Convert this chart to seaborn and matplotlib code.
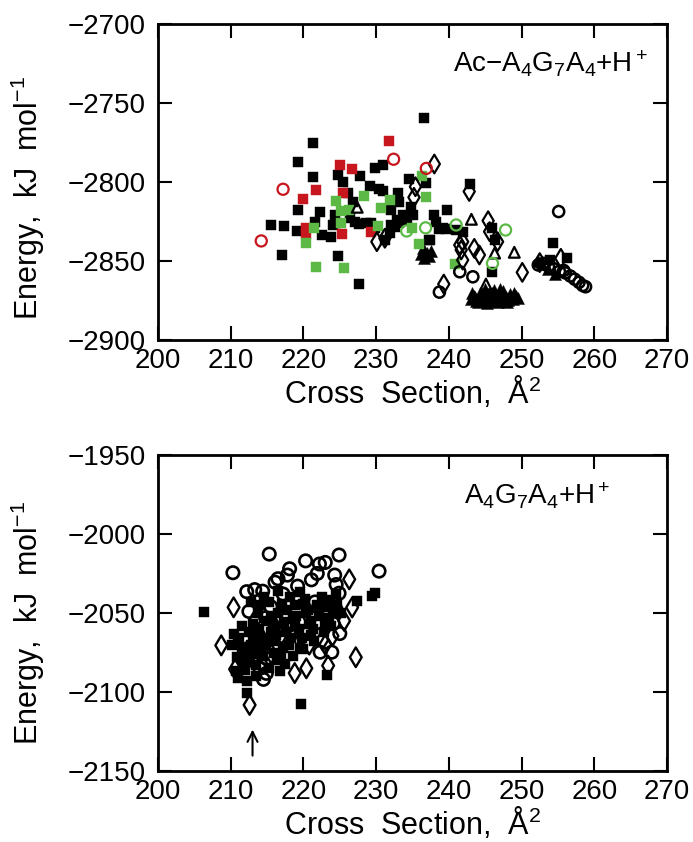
import numpy as np
import pandas as pd
import matplotlib
matplotlib.use("Agg")
import matplotlib.pyplot as plt
import seaborn as sns

# ---------------- data: top panel (Ac-A4G7A4+H+) ----------------
top_black_sq_x = [221.3, 219.2, 221.3, 219.2, 215.5, 217.3, 219.1, 221.6, 217.1, 236.6, 227.8, 229.9, 230.9,
                  224.7, 225.4, 234.5, 236.8, 229.1, 230.4, 230.9, 233.0, 226.1, 226.8, 233.1, 232.1, 234.8,
                  233.7, 232.8, 232.1, 222.3, 224.3, 224.5, 226.4, 227.1, 227.7, 228.6, 229.3, 229.9, 224.1,
                  222.6, 223.8, 231.2, 231.9, 232.6, 233.2, 234.2, 235.1, 237.3, 238.0, 238.3, 239.2, 239.7,
                  224.8, 227.7, 242.9, 238.7, 239.6, 241.0, 241.9, 246.0, 246.3, 237.4, 246.0, 254.3, 256.2,
                  253.9]
top_black_sq_y = [-2775.5, -2787.5, -2796.6, -2817.7, -2827.0, -2827.6, -2830.8, -2825.0, -2846.2, -2759.7,
                  -2796.0, -2791.0, -2789.0, -2795.6, -2800.0, -2798.0, -2800.8, -2802.5, -2804.6, -2805.5,
                  -2806.7, -2806.7, -2812.5, -2812.5, -2817.7, -2816.0, -2820.9, -2824.0, -2827.2, -2818.8,
                  -2820.9, -2826.0, -2823.0, -2825.2, -2826.6, -2826.1, -2825.8, -2829.3, -2827.2, -2833.5,
                  -2835.0, -2836.7, -2832.5, -2828.3, -2826.0, -2824.0, -2820.9, -2836.7, -2821.0, -2825.0,
                  -2829.3, -2817.7, -2846.8, -2864.7, -2801.5, -2830.0, -2830.0, -2830.4, -2831.4, -2829.3,
                  -2836.7, -2836.7, -2856.8, -2838.8, -2847.9, -2849.4]

top_red_sq_x = [221.7, 219.9, 220.4, 220.4, 231.7, 225.0, 226.7, 225.4, 225.3, 229.3]
top_red_sq_y = [-2805.0, -2810.8, -2829.0, -2833.0, -2773.8, -2789.0, -2792.0, -2807.0, -2833.0, -2831.4]

top_red_circ_x = [217.2, 214.2, 232.4, 236.9]
top_red_circ_y = [-2804.6, -2837.3, -2785.6, -2791.4]

top_green_sq_x = [220.4, 221.7, 221.4, 236.3, 236.9, 228.3, 224.5, 231.9, 225.1, 226.2, 230.7, 225.2, 230.2,
                  234.9, 235.9, 225.6, 240.8]
top_green_sq_y = [-2838.4, -2854.0, -2829.0, -2796.0, -2809.3, -2808.6, -2812.0, -2811.4, -2818.4, -2817.7,
                  -2816.2, -2826.0, -2827.8, -2829.3, -2839.2, -2854.6, -2851.9]

top_green_circ_x = [234.2, 236.8, 241.0, 247.8, 246.0]
top_green_circ_y = [-2831.0, -2829.0, -2827.2, -2830.4, -2851.5]

top_diam_x = [238.0, 235.4, 235.2, 230.1, 231.2, 242.8, 245.4, 245.6, 246.7, 241.5, 241.9, 241.7, 243.5, 244.2,
              241.9, 250.1, 239.3, 255.4, 252.5]
top_diam_y = [-2788.6, -2803.0, -2809.7, -2837.8, -2835.6, -2806.0, -2824.5, -2831.4, -2837.8, -2839.9, -2837.8,
              -2843.0, -2842.0, -2846.2, -2849.4, -2857.2, -2864.6, -2848.3, -2851.0]

top_tri_x = [227.4, 243.1, 246.3, 249.0, 245.1]
top_tri_y = [-2816.0, -2823.6, -2845.0, -2844.5, -2864.6]

top_circ_x = [255.1, 241.5, 243.3, 238.7, 252.3, 253.0, 253.7, 254.5, 255.2, 256.0, 256.7, 257.3, 257.9, 258.4,
              258.8, 255.8]
top_circ_y = [-2818.7, -2856.8, -2860.0, -2869.7, -2852.5, -2851.5, -2853.5, -2855.0, -2856.5, -2857.5, -2859.5,
              -2861.5, -2863.5, -2865.5, -2866.3, -2856.0]

top_filltri_x = [236.5, 237.0, 236.6, 237.3, 236.2, 237.5,
                 243.2, 243.6, 244.0, 244.3, 244.8, 245.2, 245.5, 246.0, 246.4, 246.8, 247.2, 247.6, 248.0,
                 248.4, 248.8, 249.2, 245.0, 246.2, 243.8, 247.0,
                 243.4, 244.1, 244.6, 245.3, 245.8, 246.5, 247.1, 247.8, 248.5, 249.0, 244.5, 245.9, 247.4,
                 248.2, 249.5, 243.0, 246.0, 247.5,
                 252.8, 253.6, 254.6, 252.3]
top_filltri_y = [-2842.0, -2845.0, -2848.0, -2847.0, -2845.5, -2843.5,
                 -2870.0, -2873.0, -2876.0, -2870.5, -2874.0, -2876.5, -2871.0, -2874.5, -2872.0, -2876.0,
                 -2870.0, -2873.5, -2876.0, -2871.0, -2874.0, -2872.0, -2868.0, -2868.5, -2875.5, -2867.5,
                 -2872.0, -2872.5, -2871.5, -2873.0, -2872.5, -2873.5, -2872.0, -2872.5, -2873.5, -2870.5,
                 -2875.0, -2875.5, -2875.0, -2874.5, -2873.5, -2874.0, -2870.0, -2869.0,
                 -2852.0, -2855.0, -2858.0, -2850.0]

# ---------------- data: bottom panel (A4G7A4+H+) ----------------
bot_sq_x = [210.5, 211.0, 211.5, 210.8, 211.8, 212.5, 212.8, 213.2, 213.5, 212.0, 213.0, 213.8, 214.0, 214.6,
            215.2, 215.0, 215.5, 215.8, 216.0, 216.4, 214.5, 214.2, 216.5, 217.0, 217.3, 217.6, 218.0, 218.2,
            218.8, 219.0, 219.4, 219.8, 220.2, 220.6, 221.0, 221.3, 221.8, 222.2, 222.5, 223.0, 223.5, 224.0,
            224.6, 225.2, 220.0, 221.5, 218.5, 217.5, 215.3, 212.2, 211.0, 213.5, 216.8, 219.5, 212.8, 211.5,
            210.2, 222.8, 223.8, 224.5, 216.5, 219.5,
            211.2, 212.3, 213.9, 214.8, 216.2, 217.8, 218.9, 220.4, 221.9, 222.9, 212.6, 213.7, 215.6, 216.9,
            218.3, 219.9, 221.1, 222.4, 211.7, 213.1, 214.4, 215.9, 217.2, 218.6, 220.8, 223.7,
            206.3, 212.3, 219.7, 223.2, 227.3, 229.4, 229.9, 210.7]
bot_sq_y = [-2063, -2068, -2072, -2078, -2080, -2062, -2070, -2076, -2083, -2086, -2057, -2050, -2045, -2040,
            -2043, -2055, -2062, -2068, -2075, -2080, -2066, -2072, -2050, -2044, -2056, -2062, -2070, -2040,
            -2045, -2052, -2060, -2066, -2041, -2048, -2055, -2060, -2045, -2052, -2040, -2046, -2053, -2049,
            -2045, -2050, -2073, -2068, -2077, -2082, -2085, -2093, -2091, -2090, -2087, -2072, -2043, -2058,
            -2070, -2062, -2058, -2038, -2036, -2037,
            -2066, -2074, -2060, -2070, -2064, -2048, -2058, -2050, -2047, -2056, -2081, -2068, -2052, -2078,
            -2066, -2044, -2064, -2046, -2084, -2064, -2077, -2058, -2072, -2054, -2057, -2042,
            -2049.2, -2100.8, -2107.6, -2089.5, -2042.2, -2039.0, -2037.5, -2086.5]

bot_circ_x = [215.3, 210.3, 218.1, 220.3, 222.2, 223.0, 224.9, 221.9, 221.1, 230.4, 224.3, 224.5, 224.9, 216.1,
              216.5, 212.2, 213.3, 214.4, 222.3, 223.9, 214.5, 214.9, 224.5, 224.1, 225.0, 217.2, 219.2, 215.5,
              218.0, 220.5, 222.0, 213.8, 216.2, 215.0, 214.0, 219.0, 221.6, 212.5, 217.8, 214.8]
bot_circ_y = [-2012.7, -2024.5, -2022.0, -2017.0, -2019.0, -2018.0, -2013.3, -2025.0, -2029.0, -2023.5, -2026.0,
              -2032.0, -2037.5, -2030.5, -2028.3, -2036.5, -2035.2, -2036.2, -2074.8, -2074.8, -2092.0, -2088.2,
              -2048.0, -2056.6, -2063.0, -2038.0, -2033.0, -2046.0, -2058.0, -2063.0, -2056.0, -2064.0, -2071.0,
              -2079.0, -2085.0, -2049.0, -2043.0, -2049.0, -2026.0, -2053.0]

bot_diam_x = [210.4, 208.7, 210.6, 212.6, 218.8, 220.4, 223.4, 227.2, 226.3, 226.7, 213.0, 214.2, 215.6, 216.8,
              218.4, 220.8, 222.6, 224.0, 225.6, 213.4, 216.0, 219.6, 221.2, 212.0, 223.0]
bot_diam_y = [-2046.4, -2070.5, -2085.6, -2108.2, -2088.0, -2085.0, -2083.3, -2078.0, -2028.7, -2046.5, -2079.0,
              -2082.0, -2076.0, -2065.0, -2064.0, -2070.0, -2067.0, -2064.5, -2055.0, -2054.0, -2058.0, -2056.0,
              -2052.0, -2075.0, -2070.0]

x_ticks = [200, 210, 220, 230, 240, 250, 260, 270]
top_y_ticks = [-2900, -2850, -2800, -2750, -2700]
bot_y_ticks = [-2150, -2100, -2050, -2000, -1950]

# ---------------- style ----------------
sns.set_style("ticks")
plt.rcParams["font.family"] = ["Liberation Sans", "DejaVu Sans"]
plt.rcParams["mathtext.fontset"] = "custom"
plt.rcParams["mathtext.rm"] = "Liberation Sans"
plt.rcParams["mathtext.it"] = "Liberation Sans:italic"
plt.rcParams["mathtext.bf"] = "Liberation Sans:bold"
plt.rcParams["text.color"] = "black"
plt.rcParams["axes.labelcolor"] = "black"
plt.rcParams["xtick.color"] = "black"
plt.rcParams["ytick.color"] = "black"

RED = "#c8161e"
GREEN = "#5cb946"

fig = plt.figure(figsize=(6.93, 8.42), dpi=100)
W, H = 693, 842
ax1 = fig.add_axes([158 / W, 1 - 340 / H, 509 / W, 316 / H])
ax2 = fig.add_axes([158 / W, 1 - 771 / H, 509 / W, 316 / H])


def filled(ax, xs, ys, marker, color, s):
    sns.scatterplot(x=xs, y=ys, marker=marker, s=s, color=color, edgecolor=color,
                    linewidth=0.3, ax=ax, zorder=3)


def hollow(ax, xs, ys, marker, color, s, lw=1.5):
    sns.scatterplot(x=xs, y=ys, marker=marker, s=s, facecolor="none", edgecolor=color,
                    linewidth=lw, ax=ax, zorder=4)


# top panel
filled(ax1, top_black_sq_x, top_black_sq_y, "s", "k", 44)
filled(ax1, top_filltri_x, top_filltri_y, "^", "k", 75)
hollow(ax1, top_diam_x, top_diam_y, "d", "k", 90, 1.6)
hollow(ax1, top_tri_x, top_tri_y, "^", "k", 60, 1.6)
hollow(ax1, top_circ_x, top_circ_y, "o", "k", 64, 1.8)
filled(ax1, top_red_sq_x, top_red_sq_y, "s", RED, 44)
filled(ax1, top_green_sq_x, top_green_sq_y, "s", GREEN, 44)
hollow(ax1, top_red_circ_x, top_red_circ_y, "o", RED, 64, 1.6)
hollow(ax1, top_green_circ_x, top_green_circ_y, "o", GREEN, 64, 1.6)

# bottom panel
filled(ax2, bot_sq_x, bot_sq_y, "s", "k", 55)
hollow(ax2, bot_circ_x, bot_circ_y, "o", "k", 80, 1.9)
hollow(ax2, bot_diam_x, bot_diam_y, "d", "k", 100, 1.7)

ax2.annotate("", xy=(213.0, -2122), xytext=(213.0, -2142),
             arrowprops=dict(arrowstyle="->", lw=1.5, color="k", mutation_scale=18))

for ax, yt in ((ax1, top_y_ticks), (ax2, bot_y_ticks)):
    ax.set_xlim(x_ticks[0], x_ticks[-1])
    ax.set_ylim(yt[0], yt[-1])
    ax.set_xticks(x_ticks)
    ax.set_yticks(yt)
    ax.tick_params(axis="both", which="both", direction="in", length=10, width=1.5,
                   top=True, right=True, labelsize=20, colors="k")
    ax.tick_params(axis="x", pad=6)
    ax.tick_params(axis="y", pad=9)
    for sp in ax.spines.values():
        sp.set_linewidth(2.0)
        sp.set_color("k")
        sp.set_visible(True)
    ax.set_xlabel("Cross  Section,  Å$^2$", fontsize=22, labelpad=0)
    ax.set_ylabel("Energy,  kJ  mol$^{-1}$", fontsize=22)
    ax.grid(False)

ax1.yaxis.set_label_coords(-0.218, 0.45)
ax2.yaxis.set_label_coords(-0.218, 0.47)

ax1.text(0.963, 0.846, "Ac$-$A$_4$G$_7$A$_4$+H$^+$", transform=ax1.transAxes,
         ha="right", va="baseline", fontsize=20)
ax2.text(0.888, 0.842, "A$_4$G$_7$A$_4$+H$^+$", transform=ax2.transAxes,
         ha="right", va="baseline", fontsize=20)

fig.savefig("out.png", dpi=100)
